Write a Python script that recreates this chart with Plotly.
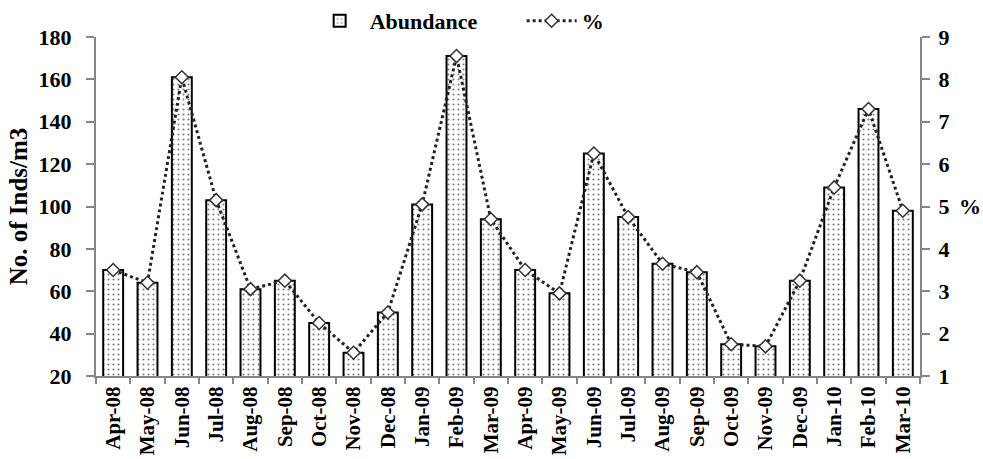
import plotly.graph_objects as go

# Monthly sampling periods
months = ["Apr-08", "May-08", "Jun-08", "Jul-08", "Aug-08", "Sep-08", "Oct-08", "Nov-08",
          "Dec-08", "Jan-09", "Feb-09", "Mar-09", "Apr-09", "May-09", "Jun-09", "Jul-09",
          "Aug-09", "Sep-09", "Oct-09", "Nov-09", "Dec-09", "Jan-10", "Feb-10", "Mar-10"]

# Abundance (No. of Inds/m3)
abundance = [70, 64, 161, 103, 61, 65, 45, 31, 50, 101, 171, 94,
             70, 59, 125, 95, 73, 69, 35, 34, 65, 109, 146, 98]

# Percentage contribution
percent = [3.5, 3.2, 8.05, 5.15, 3.05, 3.25, 2.25, 1.55, 2.5, 5.05, 8.55, 4.7,
           3.5, 2.95, 6.25, 4.75, 3.65, 3.45, 1.75, 1.7, 3.25, 5.45, 7.3, 4.9]

left_ticks = [20, 40, 60, 80, 100, 120, 140, 160, 180]
right_ticks = [1, 2, 3, 4, 5, 6, 7, 8, 9]

FONT = "Liberation Serif, Times New Roman, serif"
AXIS_GREY = "#868686"
tick_font = dict(family=FONT, size=22, color="black", weight="bold")
x_tick_font = dict(family=FONT, size=21, color="black", weight="bold")

fig = go.Figure()

fig.add_trace(go.Bar(
    x=months, y=abundance, name="Abundance",
    marker=dict(
        color="white",
        line=dict(color="black", width=2),
        pattern=dict(shape=".", fgcolor="black", bgcolor="white", size=5, solidity=0.15),
    ),
    yaxis="y",
))

fig.add_trace(go.Scatter(
    x=months, y=percent, name="%", mode="lines+markers",
    line=dict(color="#222222", width=3, dash="dot"),
    marker=dict(symbol="diamond", size=10, color="white",
                line=dict(color="#333333", width=1.5)),
    yaxis="y2",
))

fig.update_layout(
    width=983, height=459,
    margin=dict(l=96, r=63, t=37, b=83, autoexpand=False),
    paper_bgcolor="white", plot_bgcolor="white",
    bargap=0.42,
    showlegend=True,
    legend=dict(orientation="h", xref="container", yref="container",
                x=0.315, y=1.0, xanchor="left", yanchor="top",
                font=dict(family=FONT, size=22, color="black", weight="bold"),
                itemwidth=50, entrywidth=147, tracegroupgap=0,
                bgcolor="rgba(0,0,0,0)"),
    xaxis=dict(
        type="category", range=[-0.5, 23.5],
        showline=True, linecolor=AXIS_GREY, linewidth=2,
        ticks="outside", ticklen=6, tickcolor=AXIS_GREY, tickwidth=2,
        tickson="boundaries", tickangle=-90, tickfont=x_tick_font,
        ticklabelstandoff=0,
        showgrid=False, zeroline=False,
    ),
    yaxis=dict(
        range=[20, 180], tickvals=left_ticks,
        showline=True, linecolor=AXIS_GREY, linewidth=2,
        ticks="outside", ticklen=8, tickcolor=AXIS_GREY, tickwidth=2,
        tickfont=tick_font, ticklabelstandoff=10,
        showgrid=False, zeroline=False,
        title=dict(text="No. of Inds/m3", standoff=4,
                   font=dict(family=FONT, size=25, color="black", weight="bold")),
    ),
    yaxis2=dict(
        range=[1, 9], tickvals=right_ticks, overlaying="y", side="right",
        showline=True, linecolor=AXIS_GREY, linewidth=2,
        ticks="outside", ticklen=8, tickcolor=AXIS_GREY, tickwidth=2,
        tickfont=tick_font, ticklabelstandoff=4,
        showgrid=False, zeroline=False,
    ),
    annotations=[dict(text="%", xref="paper", yref="y2", x=1.045, y=5,
                      xanchor="left", yanchor="middle", showarrow=False,
                      font=dict(family=FONT, size=22, color="black", weight="bold"))],
)

fig.write_html("out.html")
